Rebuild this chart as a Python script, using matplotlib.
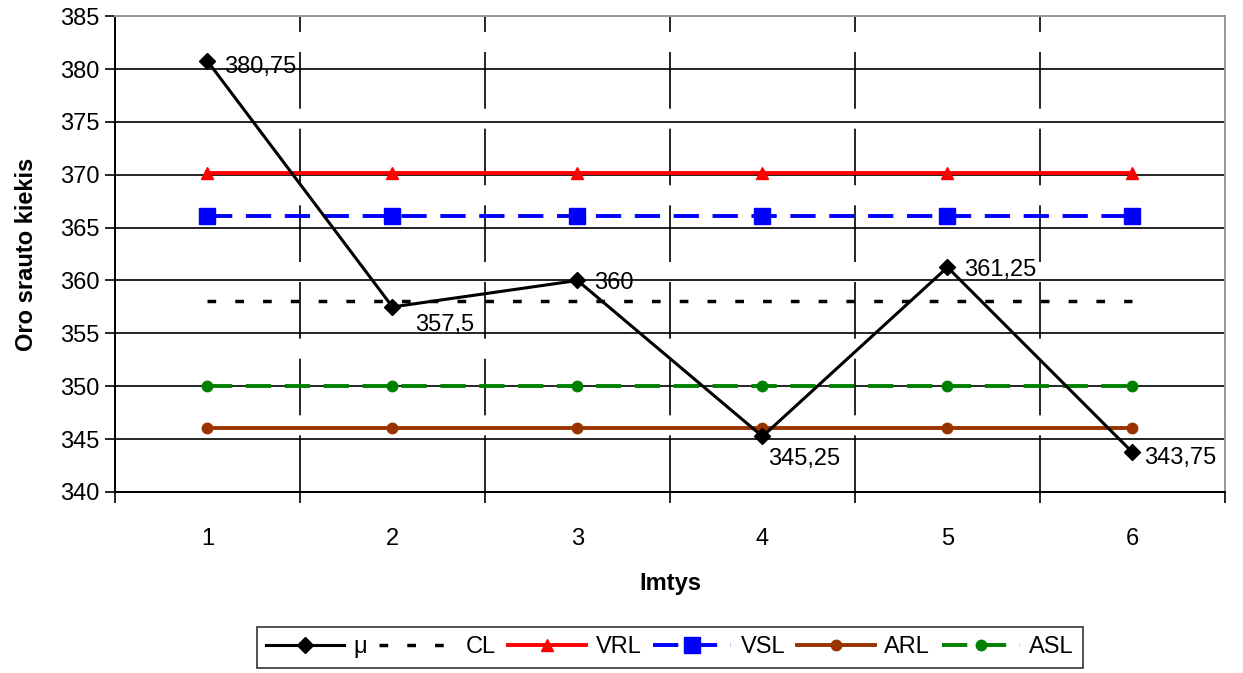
import matplotlib
matplotlib.use("Agg")
import matplotlib.pyplot as plt
from matplotlib.ticker import FixedLocator

plt.rcParams.update({
    "font.family": ["Liberation Sans", "DejaVu Sans"],
    "font.size": 17,
})

imtys = [1, 2, 3, 4, 5, 6]
mu = [380.75, 357.5, 360, 345.25, 361.25, 343.75]
cl = [358.08] * 6
vrl = [370.14] * 6
vsl = [366.12] * 6
arl = [346.02] * 6
asl = [350.04] * 6
mu_labels = ["380,75", "357,5", "360", "345,25", "361,25", "343,75"]
# label offsets in points (dx, dy)
label_offsets = [(12, -4), (16, -13), (12, -2), (4, -16), (12, -2), (8, -4)]

fig = plt.figure(figsize=(12.43, 6.73), dpi=100)
ax = fig.add_axes([0.0925, 0.269, 0.893, 0.707])

ax.plot(imtys, cl, color="black", lw=2.5, ls=(0, (2.5, 5.5)), label="CL", zorder=3)
ax.plot(imtys, vrl, color="#ff0000", lw=2.8, marker="^", ms=9, label="VRL", zorder=3)
ax.plot(imtys, vsl, color="#0000ff", lw=2.8, ls=(0, (6.5, 3.5)), marker="s", ms=11,
        label="VSL", zorder=3)
ax.plot(imtys, arl, color="#993300", lw=2.8, marker="o", ms=7.5, label="ARL", zorder=3)
ax.plot(imtys, asl, color="#008000", lw=2.8, ls=(0, (6.5, 3.5)), marker="o", ms=7.5,
        label="ASL", zorder=3)
ax.plot(imtys, mu, color="black", lw=2.2, marker="D", ms=8, label="μ", zorder=4)

for x, y, txt, (dx, dy) in zip(imtys, mu, mu_labels, label_offsets):
    ax.annotate(txt, (x, y), xytext=(dx, dy), textcoords="offset points",
                ha="left", va="center", fontsize=17, zorder=5)

ax.set_xlim(0.5, 6.5)
ax.set_ylim(340, 385)
ax.set_yticks(range(340, 386, 5))
ax.set_xticks(imtys)
ax.xaxis.set_minor_locator(FixedLocator([0.5, 1.5, 2.5, 3.5, 4.5, 5.5, 6.5]))
ax.tick_params(axis="x", which="major", length=0, pad=26, labelsize=17)
ax.tick_params(axis="x", which="minor", length=8, width=1.2, direction="out")
ax.tick_params(axis="y", length=7, width=1.2, labelsize=17, pad=4)

ax.grid(axis="y", color="black", lw=1.2)
ax.grid(axis="x", which="minor", color="black", lw=1.2, ls=(0, (34, 12)))
ax.set_axisbelow(True)

for side in ("left", "bottom"):
    ax.spines[side].set_color("black")
    ax.spines[side].set_linewidth(1.4)
for side in ("top", "right"):
    ax.spines[side].set_color("#999999")
    ax.spines[side].set_linewidth(1.4)

ax.set_xlabel("Imtys", fontweight="bold", fontsize=17, labelpad=16)
ax.set_ylabel("Oro srauto kiekis", fontweight="bold", fontsize=17, labelpad=16)

handles, labels = ax.get_legend_handles_labels()
order = ["μ", "CL", "VRL", "VSL", "ARL", "ASL"]
hmap = dict(zip(labels, handles))
leg = fig.legend([hmap[k] for k in order], order, loc="center",
                 bbox_to_anchor=(0.539, 0.038), ncol=6, frameon=True,
                 fancybox=False, edgecolor="black", fontsize=17, handlelength=3.3,
                 handletextpad=0.4, columnspacing=0.5, borderpad=0.4)
leg.get_frame().set_linewidth(1.2)

fig.savefig("out.png", dpi=100)
